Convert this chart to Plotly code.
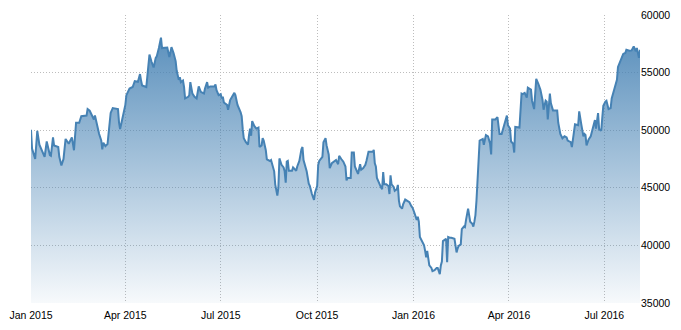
import plotly.graph_objects as go

dates_2015 = [
    "2015-01-01", "2015-01-02", "2015-01-05", "2015-01-07", "2015-01-09", "2015-01-12", "2015-01-14",
    "2015-01-16", "2015-01-19", "2015-01-20", "2015-01-22", "2015-01-23", "2015-01-26", "2015-01-27",
    "2015-01-28", "2015-01-30", "2015-02-01", "2015-02-03", "2015-02-06", "2015-02-09", "2015-02-11",
    "2015-02-13", "2015-02-16", "2015-02-18", "2015-02-23", "2015-02-24", "2015-02-26", "2015-03-01",
    "2015-03-02", "2015-03-03", "2015-03-05", "2015-03-07", "2015-03-09", "2015-03-10", "2015-03-11",
    "2015-03-13", "2015-03-15", "2015-03-17", "2015-03-18", "2015-03-20", "2015-03-23", "2015-03-25",
    "2015-03-26", "2015-03-27", "2015-03-29", "2015-03-30", "2015-04-01", "2015-04-02", "2015-04-05",
    "2015-04-08", "2015-04-10", "2015-04-13", "2015-04-15", "2015-04-16", "2015-04-17", "2015-04-21",
    "2015-04-24", "2015-04-26", "2015-04-28", "2015-04-30", "2015-05-01", "2015-05-03", "2015-05-05",
    "2015-05-06", "2015-05-11", "2015-05-13", "2015-05-15", "2015-05-17", "2015-05-19", "2015-05-20",
    "2015-05-22", "2015-05-23", "2015-05-24", "2015-05-26", "2015-05-27", "2015-05-28", "2015-05-31",
    "2015-06-01", "2015-06-02", "2015-06-04", "2015-06-06", "2015-06-08", "2015-06-10", "2015-06-12",
    "2015-06-15", "2015-06-16", "2015-06-18", "2015-06-19", "2015-06-21", "2015-06-25", "2015-06-26",
    "2015-06-27", "2015-06-29", "2015-07-01", "2015-07-02", "2015-07-03", "2015-07-04", "2015-07-07",
    "2015-07-08", "2015-07-10", "2015-07-12", "2015-07-14", "2015-07-15", "2015-07-17", "2015-07-20",
    "2015-07-21", "2015-07-22", "2015-07-23", "2015-07-25", "2015-07-27", "2015-07-28", "2015-07-29",
    "2015-07-30", "2015-07-31", "2015-08-02", "2015-08-04", "2015-08-06", "2015-08-07", "2015-08-09",
    "2015-08-10", "2015-08-11", "2015-08-13", "2015-08-14", "2015-08-17", "2015-08-18", "2015-08-20",
    "2015-08-21", "2015-08-22", "2015-08-24", "2015-08-25", "2015-08-26", "2015-08-28", "2015-08-30",
    "2015-08-31", "2015-09-01", "2015-09-02", "2015-09-03", "2015-09-04", "2015-09-07", "2015-09-08",
    "2015-09-09", "2015-09-11", "2015-09-12", "2015-09-14", "2015-09-16", "2015-09-17", "2015-09-18",
    "2015-09-20", "2015-09-21", "2015-09-23", "2015-09-24", "2015-09-26", "2015-09-28", "2015-09-29",
    "2015-10-01", "2015-10-02", "2015-10-03", "2015-10-06", "2015-10-07", "2015-10-09", "2015-10-10",
    "2015-10-12", "2015-10-13", "2015-10-15", "2015-10-17", "2015-10-19", "2015-10-21", "2015-10-22",
    "2015-10-24", "2015-10-26", "2015-10-28", "2015-10-29", "2015-10-30", "2015-11-02", "2015-11-03",
    "2015-11-05", "2015-11-06", "2015-11-08", "2015-11-09", "2015-11-11", "2015-11-12", "2015-11-14",
    "2015-11-16", "2015-11-17", "2015-11-19", "2015-11-23", "2015-11-24", "2015-11-25", "2015-11-26",
    "2015-11-27", "2015-11-29", "2015-12-01", "2015-12-02", "2015-12-03", "2015-12-04", "2015-12-06",
    "2015-12-08", "2015-12-09", "2015-12-10", "2015-12-11", "2015-12-13", "2015-12-14", "2015-12-16",
    "2015-12-17", "2015-12-18", "2015-12-19", "2015-12-21", "2015-12-22", "2015-12-24", "2015-12-26",
    "2015-12-28", "2015-12-30", "2015-12-31",
]
values_2015 = [
    50030, 48400, 47500, 49950, 48740, 48120, 47690,
    49020, 47840, 47780, 49380, 48680, 48620, 48540,
    47690, 46930, 47500, 49240, 48820, 49380, 48260,
    50650, 50650, 51210, 51270, 51830, 51690, 51210,
    50930, 51270, 50370, 49670, 49100, 48340, 48910,
    48620, 48790, 50930, 51500, 51920, 51830, 51830,
    50650, 50090, 50930, 51300, 52200, 53040, 53610,
    53750, 54250, 54200, 54870, 54310, 53890, 53750,
    56560, 55940, 55440, 56280, 56420, 57130, 58030,
    57130, 57180, 56340, 57210, 56700, 56000, 55160,
    54370, 54590, 54170, 54310, 53750, 52760, 52900,
    53040, 54170, 53180, 52900, 52760, 53800, 53330,
    53180, 53610, 54170, 53690, 53800, 53800, 53970,
    53470, 53040, 53130, 52760, 52900, 52400, 52200,
    51780, 52620, 52990, 53240, 53040, 52200, 51550,
    51210, 50090, 49300, 48960, 48740, 49580, 50140,
    49520, 50790, 50370, 50140, 50230, 48540, 48680,
    49300, 49100, 48260, 47470, 47330, 47410, 46570,
    46430, 45300, 44320, 45020, 47550, 46990, 46770,
    46430, 45440, 47270, 47330, 46480, 46480, 46770,
    46650, 46480, 46850, 47330, 48340, 48540, 47410,
    46850, 46430, 45360, 45160, 44460, 43950, 44600,
    45160, 46990, 47330, 47690, 48960, 49300, 48680,
    47890, 46710, 47130, 47270, 47410, 47050, 47780,
    47500, 47270, 46850, 45640, 45860, 45860, 48060,
    48060, 46850, 46480, 46200, 47050, 46570, 46710,
    46990, 47330, 48120, 48120, 48290, 47130, 46850,
    45860, 45360, 45020, 44880, 46370, 45300, 45300,
    45160, 44460, 46090, 45300, 45080, 44740, 44880,
    45250, 43890, 43390, 43190, 43560, 43980, 43890,
    43750, 43390, 43270,
]

dates_2016 = [
    "2016-01-02", "2016-01-04", "2016-01-05", "2016-01-06", "2016-01-07", "2016-01-09", "2016-01-11",
    "2016-01-12", "2016-01-13", "2016-01-14", "2016-01-15", "2016-01-16", "2016-01-18", "2016-01-19",
    "2016-01-21", "2016-01-23", "2016-01-24", "2016-01-25", "2016-01-26", "2016-01-27", "2016-01-28",
    "2016-01-29", "2016-01-31", "2016-02-01", "2016-02-02", "2016-02-03", "2016-02-05", "2016-02-06",
    "2016-02-09", "2016-02-11", "2016-02-12", "2016-02-13", "2016-02-15", "2016-02-16", "2016-02-18",
    "2016-02-19", "2016-02-20", "2016-02-22", "2016-02-23", "2016-02-24", "2016-02-26", "2016-02-27",
    "2016-02-28", "2016-02-29", "2016-03-01", "2016-03-02", "2016-03-03", "2016-03-04", "2016-03-07",
    "2016-03-08", "2016-03-10", "2016-03-12", "2016-03-14", "2016-03-15", "2016-03-16", "2016-03-19",
    "2016-03-21", "2016-03-23", "2016-03-25", "2016-03-27", "2016-03-29", "2016-03-30", "2016-03-31",
    "2016-04-02", "2016-04-03", "2016-04-05", "2016-04-06", "2016-04-07", "2016-04-11", "2016-04-13",
    "2016-04-14", "2016-04-16", "2016-04-18", "2016-04-19", "2016-04-22", "2016-04-23", "2016-04-25",
    "2016-04-27", "2016-04-29", "2016-05-01", "2016-05-03", "2016-05-04", "2016-05-06", "2016-05-07",
    "2016-05-08", "2016-05-10", "2016-05-11", "2016-05-13", "2016-05-17", "2016-05-18", "2016-05-20",
    "2016-05-22", "2016-05-24", "2016-05-26", "2016-05-27", "2016-05-29", "2016-05-30", "2016-05-31",
    "2016-06-01", "2016-06-03", "2016-06-06", "2016-06-07", "2016-06-09", "2016-06-11", "2016-06-12",
    "2016-06-13", "2016-06-14", "2016-06-16", "2016-06-18", "2016-06-19", "2016-06-21", "2016-06-22",
    "2016-06-23", "2016-06-25", "2016-06-26", "2016-06-28", "2016-06-29", "2016-06-30", "2016-07-02",
    "2016-07-03", "2016-07-05", "2016-07-07", "2016-07-08", "2016-07-10", "2016-07-13", "2016-07-14",
    "2016-07-16", "2016-07-19", "2016-07-21", "2016-07-22", "2016-07-25", "2016-07-27", "2016-07-29",
    "2016-07-31", "2016-08-01", "2016-08-03", "2016-08-04",
]
values_2016 = [
    42770, 42200, 42490, 42060, 40740, 40370, 40010,
    39530, 38970, 39530, 38540, 38260, 38040, 37760,
    37840, 38040, 38040, 37700, 37500, 38260, 38600,
    40370, 40460, 40570, 38540, 40740, 40660, 40660,
    40570, 39390, 39730, 39950, 40090, 41420, 41640,
    41590, 42200, 43190, 42630, 42060, 41870, 41640,
    42060, 42630, 43890, 45580, 47270, 49100, 49240,
    48740, 49580, 49470, 48820, 47890, 50930, 50930,
    51130, 49670, 49670, 50310, 51070, 51270, 50430,
    50140, 49020, 48820, 48060, 50280, 50230, 53180,
    53130, 53240, 52820, 53690, 53520, 52560, 51830,
    54450, 54030, 53520, 52620, 51780, 52560, 52480,
    50930, 53180, 52340, 51720, 51720, 50650, 49670,
    49300, 49470, 49380, 49100, 49020, 48960, 48540,
    49380, 50510, 50430, 51640, 50510, 49470, 49670,
    49580, 48680, 49190, 49470, 49810, 50370, 50880,
    50140, 51490, 50090, 49950, 51070, 52110, 52480,
    52560, 51830, 51920, 52760, 53470, 54370, 55490,
    56000, 56620, 56700, 56980, 56900, 56930, 57270,
    56840, 57130, 56280, 56980,
]

x_range = ["2015-01-01", "2016-08-04"]
y_range = [35000, 60000]

dates = dates_2015 + dates_2016
values = values_2015 + values_2016

line_color = "#4682B4"
grid_color = "#bdbdbd"

fig = go.Figure()
fig.add_trace(go.Scatter(
    x=dates,
    y=values,
    mode="lines",
    line=dict(color=line_color, width=2),
    fill="tozeroy",
    fillgradient=dict(
        type="vertical",
        colorscale=[[0, "rgba(70,130,180,0.02)"], [1, "rgba(70,130,180,0.95)"]],
        start=y_range[0],
        stop=y_range[1],
    ),
    hoverinfo="skip",
    showlegend=False,
))

fig.update_layout(
    width=681,
    height=330,
    margin=dict(l=27, r=41, t=9, b=25),
    paper_bgcolor="white",
    plot_bgcolor="white",
    font=dict(family="Liberation Sans, Arial, sans-serif", size=10.5, color="#000000"),
    showlegend=False,
)
fig.update_xaxes(
    type="date",
    range=x_range,
    tick0="2015-01-01",
    dtick="M3",
    tickformat="%b %Y",
    showgrid=True,
    gridcolor=grid_color,
    griddash="1px,2px",
    gridwidth=1,
    zeroline=False,
    showline=False,
    ticks="",
    ticklabelstandoff=4,
)
fig.update_yaxes(
    side="right",
    range=y_range,
    tick0=35000,
    dtick=5000,
    tickformat="d",
    showgrid=True,
    gridcolor=grid_color,
    griddash="1px,2px",
    gridwidth=1,
    zeroline=False,
    showline=False,
    ticks="",
)

fig.write_html("out.html")
